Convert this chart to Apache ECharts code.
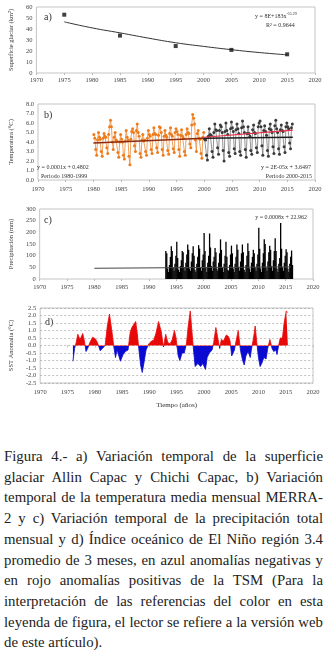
<!DOCTYPE html>
<html>
<head>
<meta charset="utf-8">
<script src="https://cdn.jsdelivr.net/npm/echarts@6/dist/echarts.min.js"></script>
<style>
  html, body { margin: 0; padding: 0; background: #fff; }
  #chart { position: absolute; left: 0; top: 0; width: 328px; height: 415px; }
  #caption { position: absolute; left: 4px; top: 446px; width: 319px; font-family: 'Liberation Serif', serif; font-size: 14.8px; line-height: 20.7px; color: #222; }
  #caption div { text-align: justify; text-align-last: justify; white-space: nowrap; }
  #caption div.last { text-align-last: left; }
</style>
</head>
<body>
<div id="chart"></div>
<div id="caption">
  <div>Figura 4.- a) Variación temporal de la superficie</div>
  <div>glaciar Allin Capac y Chichi Capac, b) Variación</div>
  <div>temporal de la temperatura media mensual MERRA-</div>
  <div>2 y c) Variación temporal de la precipitación total</div>
  <div>mensual y d) Índice oceánico de El Niño región 3.4</div>
  <div>promedio de 3 meses, en azul anomalías negativas y</div>
  <div>en rojo anomalías positivas de la TSM (Para la</div>
  <div>interpretación de las referencias del color en esta</div>
  <div>leyenda de figura, el lector se refiere a la versión web</div>
  <div class="last">de este artículo).</div>
</div>
<script>
// a) glaciar
const glacierYears = [1975, 1985, 1995, 2005, 2015];
const glacierArea = [53, 34, 24.5, 21, 17];
const glacierFitYears = [1975, 1980, 1985, 1990, 1995, 2000, 2005, 2010, 2015];
const glacierFitArea = [46.5, 41, 36.5, 31.8, 27.5, 24.2, 21.2, 18.6, 16.5];

// b) temperatura, 6 valores por año
const stepsPerYear = 6;
const tempOrangeStart = 1980;
const tempOrange = [
  4.8, 4.4, 3.2, 2.6, 4.2, 5.0,   // 1980
  4.5, 4.3, 3.0, 2.5, 4.4, 4.9,
  4.6, 4.5, 3.4, 2.8, 4.8, 5.6,
  6.3, 5.6, 4.0, 3.2, 4.5, 5.0,
  4.2, 4.1, 2.9, 2.4, 4.0, 4.8,
  4.3, 4.0, 2.6, 2.2, 4.1, 5.2,   // 1985
  4.5, 4.2, 2.5, 1.6, 4.3, 5.1,
  5.4, 5.0, 3.6, 3.0, 5.2, 5.9,
  5.0, 4.6, 2.8, 2.4, 4.2, 4.8,
  4.1, 4.2, 3.0, 2.6, 4.4, 5.2,
  4.8, 4.6, 3.2, 2.8, 4.8, 5.5,   // 1990
  4.9, 4.8, 3.4, 2.9, 4.7, 5.6,
  5.5, 5.0, 3.2, 2.6, 4.6, 5.2,
  4.7, 4.5, 3.1, 2.7, 4.9, 5.5,
  4.8, 4.6, 3.3, 2.9, 5.0, 5.4,
  5.1, 4.8, 3.2, 2.5, 4.7, 5.3,   // 1995
  4.6, 4.4, 3.0, 2.6, 4.8, 5.4,
  5.0, 4.9, 3.8, 3.4, 5.8, 6.9,
  6.5, 5.9, 4.2, 3.0, 4.9, 5.2,
  4.4, 4.3, 2.8, 2.3, 4.5, 5.0
];
const tempGrayStart = 2000;
const tempGray = [
  4.3, 4.2, 2.6, 2.1, 4.6, 5.4,   // 2000
  4.8, 4.7, 3.0, 2.4, 5.0, 5.9,
  5.3, 5.2, 3.4, 2.7, 5.2, 5.8,
  5.6, 5.0, 3.1, 2.0, 5.1, 6.0,
  5.2, 4.8, 2.9, 2.5, 5.4, 6.1,
  5.5, 5.1, 3.3, 2.8, 5.3, 5.9,   // 2005
  5.4, 4.9, 3.0, 2.6, 5.5, 6.2,
  5.6, 5.0, 3.2, 2.4, 4.9, 5.6,
  4.9, 4.6, 3.1, 2.7, 5.3, 5.8,
  5.0, 4.9, 3.4, 2.9, 5.6, 6.0,
  6.2, 5.6, 3.6, 2.6, 5.2, 5.7,   // 2010
  5.1, 4.7, 3.1, 2.5, 5.4, 5.9,
  5.3, 5.0, 3.5, 2.8, 5.7, 6.3,
  5.4, 5.0, 3.3, 2.7, 5.3, 5.8,
  5.2, 5.1, 3.5, 2.9, 5.6, 6.0,
  5.6, 5.4, 3.9, 3.3, 5.5, 5.9
];
const trendOrangeYears = [1980, 2000];
const trendOrangeTemp = [3.9, 4.4];
const trendGrayYears = [2000, 2016];
const trendGrayTemp = [4.4, 4.5];
const trendRedYears = [2000, 2016];
const trendRedTemp = [4.5, 5.25];

// c) precipitación, 6 valores por año desde 1993
const precipStart = 1993;
const precip = [
  120, 110, 45, 30, 60, 95,    // 1993
  140, 120, 50, 35, 65, 100,
  160, 90, 40, 30, 55, 80,     // 1995
  120, 115, 50, 35, 70, 105,
  148, 125, 45, 35, 75, 110,
  140, 100, 40, 30, 65, 95,
  145, 130, 50, 35, 80, 105,
  197, 120, 50, 30, 70, 100,   // 2000
  195, 135, 55, 35, 75, 95,
  133, 115, 45, 35, 70, 110,
  170, 125, 50, 30, 65, 100,
  160, 95, 40, 35, 60, 105,
  143, 110, 45, 30, 65, 95,    // 2005
  148, 125, 50, 35, 75, 110,
  148, 115, 40, 30, 60, 100,
  153, 120, 45, 30, 70, 95,
  125, 110, 50, 35, 65, 105,
  220, 130, 45, 30, 70, 110,   // 2010
  170, 150, 50, 35, 75, 115,
  143, 125, 55, 35, 80, 120,
  175, 120, 45, 30, 65, 90,
  240, 130, 50, 35, 70, 100,
  128, 115, 45, 30, 65, 95,    // 2015
  122, 60
];
const precipFitYears = [1980, 2016];
const precipFit = [46, 52];

// d) ONI
const oniYears = [1976.0,1976.3,1976.6,1976.9,1977.3,1977.8,1978.1,1978.4,1978.7,1979.1,1979.6,1980.1,1980.5,1981.0,1981.4,1981.9,1982.3,1982.7,1983.2,1983.5,1983.8,1984.1,1984.7,1985.2,1985.6,1986.1,1986.5,1986.8,1987.1,1987.5,1987.8,1988.1,1988.4,1988.7,1989.0,1989.4,1989.9,1990.4,1990.8,1991.2,1991.7,1992.2,1992.6,1993.0,1993.4,1993.8,1994.2,1994.6,1994.9,1995.3,1995.6,1996.0,1996.4,1996.8,1997.1,1997.5,1997.8,1998.1,1998.4,1998.9,1999.4,1999.8,2000.3,2000.6,2001.0,2001.5,2001.8,2002.2,2002.5,2002.9,2003.2,2003.6,2004.1,2004.5,2004.8,2005.1,2005.6,2005.9,2006.3,2006.7,2007.1,2007.4,2007.7,2008.1,2008.5,2008.7,2009.1,2009.4,2009.7,2010.0,2010.3,2010.6,2011.0,2011.4,2011.7,2012.1,2012.5,2012.8,2013.2,2013.4,2013.7,2014.0,2014.4,2014.7,2015.1,2015.4];
const oniValues = [-1.05,-0.2,0.2,0.75,0.4,0.8,0.3,-0.4,-0.2,0.2,0.55,0.45,0.2,-0.35,-0.2,0.0,1.3,2.1,0.8,-0.1,-0.8,-0.3,-1.05,-0.6,-0.4,-0.3,0.9,1.2,1.1,1.6,0.8,-0.3,-1.3,-1.8,-1.2,-0.3,0.1,0.3,0.35,0.8,1.6,0.9,-0.1,0.75,0.2,0.1,0.4,1.0,0.5,-0.7,-1.0,-0.5,-0.5,0.1,1.2,2.3,1.0,-0.3,-1.4,-1.2,-1.4,-1.2,-1.6,-0.8,-0.5,-0.3,0.2,1.2,0.6,-0.2,0.4,0.3,0.7,0.6,0.3,-0.7,-0.3,0.3,1.0,-0.3,-1.0,-1.3,-0.7,-0.4,-0.8,-0.3,0.5,1.3,0.2,-0.8,-1.4,-1.2,-0.8,-0.9,-0.2,0.4,-0.2,-0.4,-0.3,-0.6,0.0,0.5,0.5,1.5,2.3,2.2];

const serif = 'Liberation Serif';
const labelColor = '#444';

function pairs(xs, ys) {
  return xs.map((x, i) => [x, ys[i]]);
}
function stepped(start, values) {
  return values.map((v, i) => [start + (i + 0.5) / stepsPerYear, v]);
}

function xAx(i, margin) {
  return {
    gridIndex: i, type: 'value', min: 1970, max: 2020, interval: 5,
    axisLine: { show: false },
    axisTick: { show: true, length: 2, lineStyle: { color: '#bbb' } },
    splitLine: { show: false },
    axisLabel: { fontFamily: serif, fontSize: 6.5, color: labelColor, margin: margin, formatter: v => String(v) }
  };
}
function yAx(i, min, max, interval, name, gap, fmt, dashed) {
  return {
    gridIndex: i, type: 'value', min: min, max: max, interval: interval,
    name: name, nameLocation: 'middle', nameGap: gap,
    nameTextStyle: { fontFamily: serif, fontSize: 6.5, color: '#333' },
    axisLine: { show: false },
    axisTick: { show: false },
    splitLine: dashed ? { show: true, lineStyle: { color: '#9a9a9a', type: [2, 2], width: 0.6 } } : { show: false },
    axisLabel: { fontFamily: serif, fontSize: 6.5, color: labelColor, margin: 4, formatter: fmt || (v => String(v)) }
  };
}
function note(x, y, text, align, size) {
  return {
    type: 'text', x: x, y: y, silent: true,
    style: { text: text, fontFamily: serif, fontSize: size || 6, fill: '#333', textAlign: align || 'left', textVerticalAlign: 'middle' }
  };
}

const frame = { show: true, borderColor: '#c4c4c4', borderWidth: 1, backgroundColor: '#fff' };

const myChart = echarts.init(document.getElementById('chart'));
const option = {
  animation: false,
  backgroundColor: '#fff',
  grid: [
    Object.assign({ left: 35, top: 7, width: 280, height: 66 }, frame),
    Object.assign({ left: 35, top: 104, width: 280, height: 76 }, frame),
    Object.assign({ left: 36, top: 209, width: 277, height: 70 }, frame),
    Object.assign({ left: 37, top: 308, width: 276, height: 75 }, frame)
  ],
  xAxis: [
    xAx(0, 4),
    xAx(1, 6),
    xAx(2, 5),
    Object.assign(xAx(3, 6), {
      name: 'Tiempo (años)', nameLocation: 'middle', nameGap: 19,
      nameTextStyle: { fontFamily: serif, fontSize: 7, color: '#333' }
    })
  ],
  yAxis: [
    yAx(0, 0, 60, 10, 'Superficie glaciar (km²)', 19),
    yAx(1, 0, 8, 1, 'Temperatura (°C)', 20, v => v.toFixed(1)),
    yAx(2, 0, 300, 50, 'Precipitación (mm)', 19),
    yAx(3, -2.5, 2.5, 0.5, 'SST Anomalía (°C)', 20, v => v.toFixed(1), true)
  ],
  visualMap: {
    show: false, type: 'piecewise', seriesIndex: 9, dimension: 1,
    pieces: [
      { gte: -5, lt: 0, color: '#0a0ad0' },
      { gte: 0, lte: 5, color: '#e80808' }
    ]
  },
  series: [
    {
      type: 'scatter', xAxisIndex: 0, yAxisIndex: 0,
      data: pairs(glacierYears, glacierArea),
      symbol: 'rect', symbolSize: 4, itemStyle: { color: '#111' }, z: 3
    },
    {
      type: 'line', xAxisIndex: 0, yAxisIndex: 0,
      data: pairs(glacierFitYears, glacierFitArea),
      smooth: true, showSymbol: false, lineStyle: { color: '#333', width: 1 }
    },
    {
      type: 'line', xAxisIndex: 1, yAxisIndex: 1,
      data: stepped(tempOrangeStart, tempOrange),
      symbol: 'circle', symbolSize: 3,
      lineStyle: { color: '#eb8a3a', width: 0.8 },
      itemStyle: { color: '#ee7c1c' }
    },
    {
      type: 'line', xAxisIndex: 1, yAxisIndex: 1,
      data: stepped(tempGrayStart, tempGray),
      symbol: 'circle', symbolSize: 3,
      lineStyle: { color: '#777', width: 0.8 },
      itemStyle: { color: '#3a3a3a' }
    },
    {
      type: 'line', xAxisIndex: 1, yAxisIndex: 1,
      data: pairs(trendOrangeYears, trendOrangeTemp),
      showSymbol: false, lineStyle: { color: '#8a2a10', width: 1.5 }, z: 4
    },
    {
      type: 'line', xAxisIndex: 1, yAxisIndex: 1,
      data: pairs(trendGrayYears, trendGrayTemp),
      showSymbol: false, lineStyle: { color: '#1e1e1e', width: 1.5 }, z: 4
    },
    {
      type: 'line', xAxisIndex: 1, yAxisIndex: 1,
      data: pairs(trendRedYears, trendRedTemp),
      showSymbol: false, lineStyle: { color: '#e8304a', width: 1.2 }, z: 4
    },
    {
      type: 'bar', xAxisIndex: 2, yAxisIndex: 2,
      data: stepped(precipStart, precip),
      barWidth: 1.3, itemStyle: { color: '#000' }
    },
    {
      type: 'line', xAxisIndex: 2, yAxisIndex: 2,
      data: pairs(precipFitYears, precipFit),
      showSymbol: false, lineStyle: { color: '#444', width: 1 }
    },
    {
      type: 'line', xAxisIndex: 3, yAxisIndex: 3,
      data: pairs(oniYears, oniValues),
      showSymbol: false, lineStyle: { width: 0.8 },
      areaStyle: { origin: 0, opacity: 1 }
    }
  ],
  graphic: [
    note(44, 17, 'a)', 'left', 10),
    note(44, 115, 'b)', 'left', 10),
    note(44, 220, 'c)', 'left', 10),
    note(45, 322, 'd)', 'left', 10),
    {
      type: 'text', x: 255, y: 12, silent: true,
      style: {
        text: '{a|y = 8E+183x}{s|-55.29}',
        rich: {
          a: { fontFamily: serif, fontSize: 6, fill: '#333', lineHeight: 8 },
          s: { fontFamily: serif, fontSize: 4, fill: '#333', verticalAlign: 'top', lineHeight: 8 }
        }
      }
    },
    note(266, 25, 'R² = 0.9644'),
    note(37, 167.5, 'y = 0.0001x + 0.4802'),
    note(41, 176.5, 'Periodo 1980-1999'),
    note(311, 167.5, 'y = 2E-05x + 3.6497', 'right'),
    note(312, 176.5, 'Periodo 2000-2015', 'right'),
    note(307, 217, 'y = 0.0008x + 22.962', 'right')
  ]
};
option && myChart.setOption(option);
</script>
</body>
</html>
